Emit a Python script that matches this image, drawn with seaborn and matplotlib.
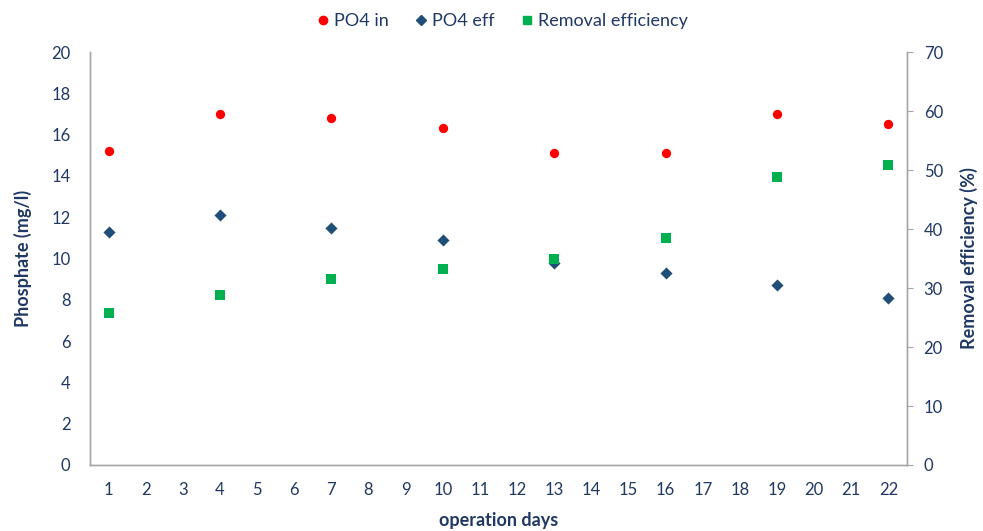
import pandas as pd
import seaborn as sns
import numpy as np
import matplotlib.pyplot as plt
from matplotlib.lines import Line2D

days = [1, 4, 7, 10, 13, 16, 19, 22]
po4_in = [15.2, 17.0, 16.8, 16.3, 15.1, 15.1, 17.0, 16.5]
po4_eff = [11.3, 12.1, 11.5, 10.9, 9.8, 9.3, 8.7, 8.1]
removal = [25.8, 28.8, 31.5, 33.2, 34.9, 38.5, 48.8, 50.8]
all_days = list(range(1, 23))

navy = "#1F3864"
grey = "#A6A6A6"

sns.set_style("white")
plt.rcParams['font.family'] = ['Lato', 'DejaVu Sans']

df = pd.DataFrame({"day": days, "PO4 in": po4_in, "PO4 eff": po4_eff,
                   "Removal efficiency": removal})

fig = plt.figure(figsize=(9.83, 5.31), dpi=100)
ax = fig.add_axes([0.0916, 0.1243, 0.8311, 0.7777])
ax2 = ax.twinx()

sns.scatterplot(data=df, x="day", y="PO4 in", ax=ax, color="#FF0000",
                marker="o", s=45, linewidth=0)
sns.scatterplot(data=df, x="day", y="PO4 eff", ax=ax, color="#1F4E79",
                marker="D", s=38, linewidth=0)
sns.scatterplot(data=df, x="day", y="Removal efficiency", ax=ax2,
                color="#00B050", marker="s", s=55, linewidth=0)

ax.set_xlim(0.5, 22.5)
ax.set_xticks(all_days)
ax.set_xticklabels([str(d) for d in all_days])
ax.set_ylim(0, 20)
ax.set_yticks(np.arange(0, 21, 2))
ax2.set_ylim(0, 70)
ax2.set_yticks(np.arange(0, 71, 10))

ax.set_xlabel("operation days", fontsize=13, fontweight="bold", color=navy, labelpad=10)
ax.set_ylabel("Phosphate (mg/l)", fontsize=13, fontweight="bold", color=navy, labelpad=14)
ax2.set_ylabel("Removal efficiency (%)", fontsize=13, fontweight="bold", color=navy, labelpad=12)

for a in (ax, ax2):
    a.spines["top"].set_visible(False)
    for s in ("left", "right", "bottom"):
        a.spines[s].set_color(grey)
        a.spines[s].set_linewidth(1)
ax.tick_params(axis="x", length=0, pad=12, labelsize=12, labelcolor=navy)
ax.tick_params(axis="y", length=0, pad=14, labelsize=12, labelcolor=navy)
ax2.tick_params(axis="y", length=4, color=grey, pad=8, labelsize=12, labelcolor=navy)

handles = [
    Line2D([], [], marker="o", color="#FF0000", linestyle="", markersize=6),
    Line2D([], [], marker="D", color="#1F4E79", linestyle="", markersize=5),
    Line2D([], [], marker="s", color="#00B050", linestyle="", markersize=6),
]
fig.legend(handles, ["PO4 in", "PO4 eff", "Removal efficiency"], loc="center",
           bbox_to_anchor=(0.509, 0.96), ncol=3, frameon=False, fontsize=13,
           labelcolor=navy, handletextpad=0.0, handlelength=1.2, columnspacing=1.2)

fig.savefig("out.png", dpi=100)
